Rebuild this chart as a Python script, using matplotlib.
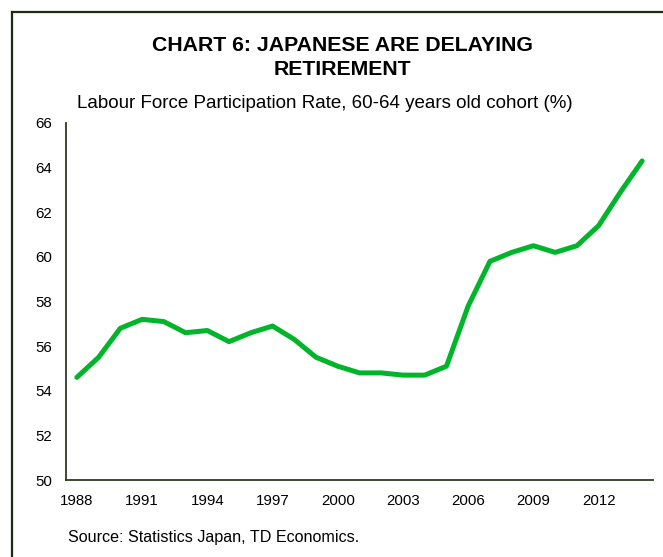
import matplotlib.pyplot as plt
from matplotlib.lines import Line2D

plt.rcParams['font.family'] = ['Liberation Sans', 'DejaVu Sans']

# Labour force participation rate, 60-64 cohort (%)
years = list(range(1988, 2015))
rate = [54.6, 55.5, 56.8, 57.2, 57.1, 56.6, 56.7, 56.2, 56.6, 56.9,
        56.3, 55.5, 55.1, 54.8, 54.8, 54.7, 54.7, 55.1, 57.8, 59.8,
        60.2, 60.5, 60.2, 60.5, 61.4, 62.9, 64.3]
tick_years = list(range(1988, 2013, 3))
y_ticks = list(range(50, 67, 2))

W, H = 663, 557
fig = plt.figure(figsize=(W / 100, H / 100), dpi=100)
ax = fig.add_axes([66 / W, 1 - 480 / H, (653 - 66) / W, (480 - 123) / H])

ax.plot(years, rate, color='#00b52a', lw=3.6, solid_capstyle='round',
        solid_joinstyle='round')

ax.set_xlim(1987.5, 2014.5)
ax.set_ylim(50, 66)
ax.set_xticks(tick_years)
ax.set_yticks(y_ticks)
ax.tick_params(length=0, labelsize=10.8, colors='black')
ax.tick_params(axis='y', pad=10)
ax.tick_params(axis='x', pad=10)
for s in ['top', 'right']:
    ax.spines[s].set_visible(False)
for s in ['left', 'bottom']:
    ax.spines[s].set_color('#2f3a22')
    ax.spines[s].set_linewidth(1.3)

# frame around the chart box
fig.add_artist(Line2D([11.5 / W, 11.5 / W], [0, 1 - 11.5 / H],
                      transform=fig.transFigure, color='#1f2a14', lw=1.6))
fig.add_artist(Line2D([11.5 / W, 1], [1 - 11.5 / H, 1 - 11.5 / H],
                      transform=fig.transFigure, color='#1f2a14', lw=1.6))

fig.text(342 / W, 1 - 57.5 / H, 'CHART 6: JAPANESE ARE DELAYING\nRETIREMENT',
         ha='center', va='center', fontsize=15.3, fontweight='bold',
         linespacing=1.3)
fig.text(77 / W, 1 - 103 / H,
         'Labour Force Participation Rate, 60-64 years old cohort (%)',
         ha='left', va='center', fontsize=13.5)
fig.text(68 / W, 1 - 537.5 / H, 'Source: Statistics Japan, TD Economics.',
         ha='left', va='center', fontsize=11.6)

fig.savefig('out.png', dpi=100)
